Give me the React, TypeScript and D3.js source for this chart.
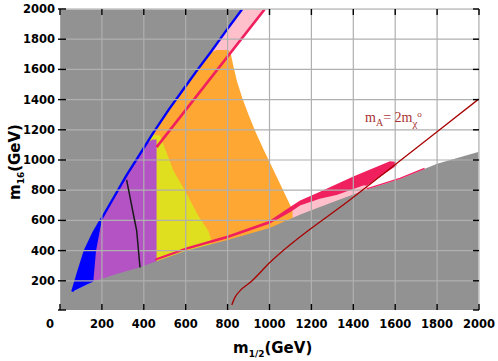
import React from "react";
import * as d3 from "d3";

type P = [number, number];

const xTicks = [0, 200, 400, 600, 800, 1000, 1200, 1400, 1600, 1800, 2000];
const yTicks = [200, 400, 600, 800, 1000, 1200, 1400, 1600, 1800, 2000];
const xTickLabels = ["0", "200", "400", "600", "800", "1000", "1200", "1400", "1600", "1800", "2000"];

// upper-left boundary of the allowed region (blue band)
const upperEdge: P[] = [[59,128],[85,250],[119,399],[160,520],[200,615],[260,760],[318,900],[380,1035],[445,1180],[520,1335],[590,1470],[655,1595],[720,1715],[790,1850],[870,2000]];
// top of the lower gray region
const lowerEdge: P[] = [[59,128],[159,195],[270,245],[382,290],[460,330],[605,400],[800,470],[1000,550],[1150,640],[1300,720],[1464,805],[1623,875],[1800,975],[1909,1019],[2000,1055]];
// blue filled region at low masses
const blueRegion: P[] = [[59,128],[159,195],[172,399],[199,598],[215,660],[200,615],[160,520],[119,399],[85,250],[59,128]];
// purple region
const purpleRegion: P[] = [[140,100],[140,480],[160,520],[200,615],[260,760],[318,900],[380,1035],[420,1115],[440,1135],[461,1135],[461,100]];
// yellow region
const yellowRegion: P[] = [[430,1150],[445,1165],[477,1163],[500,1080],[525,990],[541,930],[597,797],[660,631],[708,532],[720,480],[725,300],[440,200]];
// orange region
const orangeRegion: P[] = [[380,1035],[445,1180],[520,1335],[590,1470],[655,1595],[708,1706],[748,1728],[804,1728],[815,1706],[828,1620],[845,1520],[870,1410],[900,1300],[935,1180],[975,1060],[1020,930],[1065,800],[1114,655],[1120,500],[380,200]];
// light pink wedge at top
const pinkTop: P[] = [[600,1490],[655,1595],[720,1715],[790,1850],[870,2000],[978,2000],[699,1500]];
// light pink strip under crimson band
const pinkLow: P[] = [[1110,700],[1146,698],[1241,744],[1321,768],[1448,831],[1470,818],[1470,780],[1110,560]];
// crimson band along the lower edge and its blob
const crimsonBand: P[] = [[455,348],[605,422],[800,500],[1000,598],[1100,690],[1146,731],[1241,789],[1400,890],[1575,992],[1600,988],[1607,963],[1464,830],[1448,831],[1321,768],[1241,744],[1146,698],[1100,655],[1000,578],[800,482],[605,405],[455,332]];
// thin crimson line continuing along gray edge
const crimsonThin: P[] = [[1464,808],[1623,878],[1740,945]];
// crimson diagonal line
const crimsonDiag: P[] = [[461,1085],[978,2000]];
// black contour in purple region
const blackLine: P[] = [[318,868],[347,664],[366,532],[382,288]];
// m_A = 2 m_chi line
const mALine: P[] = [[820,40],[835,90],[860,135],[907,188],[1000,319],[1400,753],[1800,1187],[2000,1405]];

const W = 498, H = 361;
const x = d3.scaleLinear().domain([0, 2000]).range([60, 479]);
const y = d3.scaleLinear().domain([0, 2000]).range([311, 9]);

const poly = (pts: P[]) => "M" + pts.map(p => `${x(p[0])},${y(p[1])}`).join("L") + "Z";
const line = d3.line<P>().x(d => x(d[0])).y(d => y(d[1]));
const curve = d3.line<P>().x(d => x(d[0])).y(d => y(d[1])).curve(d3.curveMonotoneX);

const grayRegion: P[] = [[0, 2000], ...upperEdge.slice().reverse(), ...lowerEdge.slice(1), [2000, 0], [0, 0]];

const GRAY = "#929292";
const CRIMSON = "#f0205f";
const font = "'DejaVu Sans', sans-serif";

export default function App() {
  const left = 60, right = 479, top = 9, bottom = 310;
  return (
    <svg width={W} height={H} style={{ position: "absolute", left: 0, top: 0, background: "#fff" }}>
      <defs>
        <clipPath id="plot">
          <rect x={left} y={top} width={right - left} height={bottom - top} />
        </clipPath>
      </defs>
      <g clipPath="url(#plot)">
        <rect x={left} y={top} width={right - left} height={bottom - top} fill="#fff" />
        <path d={poly(pinkTop)} fill="#ffc0cb" />
        <path d={poly(orangeRegion)} fill="#ffa733" />
        <path d={poly(yellowRegion)} fill="#e0df1f" />
        <path d={poly(purpleRegion)} fill="#b454c4" />
        <path d={poly(pinkLow)} fill="#ffc0cb" />
        <path d={poly(crimsonBand)} fill={CRIMSON} />
        <path d={poly(grayRegion)} fill={GRAY} />
        <path d={poly(blueRegion)} fill="#0000ff" />
        <path d={line(upperEdge) || ""} fill="none" stroke="#0000ff" strokeWidth={2.4} />
        <path d={line(crimsonDiag) || ""} fill="none" stroke={CRIMSON} strokeWidth={2.6} />
        <path d={line(crimsonThin) || ""} fill="none" stroke={CRIMSON} strokeWidth={1.3} />
        {xTicks.map(t => (
          <line key={"gx" + t} x1={x(t)} x2={x(t)} y1={top} y2={bottom} stroke="#b0b0b0" strokeWidth={1.2} />
        ))}
        {yTicks.map(t => (
          <line key={"gy" + t} x1={left} x2={right} y1={y(t)} y2={y(t)} stroke="#b0b0b0" strokeWidth={1.2} />
        ))}
        <path d={line(blackLine) || ""} fill="none" stroke="#1a1a1a" strokeWidth={1.5} />
        <path d={curve(mALine) || ""} fill="none" stroke="#a80000" strokeWidth={1.3} />
      </g>
      <line x1={left} x2={right} y1={top} y2={top} stroke="#c4c4c4" strokeWidth={1.5} />
      <line x1={right} x2={right} y1={top} y2={bottom} stroke="#c4c4c4" strokeWidth={1.5} />
      {xTicks.map(t => (
        <g key={"tx" + t}>
          <line x1={x(t)} x2={x(t)} y1={top} y2={top + 6} stroke="#000" strokeWidth={1.4} />
          <line x1={x(t)} x2={x(t)} y1={bottom} y2={bottom - 6} stroke="#000" strokeWidth={1.4} />
        </g>
      ))}
      {[0, ...yTicks].map(t => (
        <g key={"ty" + t}>
          <line x1={left - 2} x2={left + 6} y1={Math.min(y(t), bottom)} y2={Math.min(y(t), bottom)} stroke="#000" strokeWidth={1.4} />
          <line x1={right} x2={right - 6} y1={Math.min(y(t), bottom)} y2={Math.min(y(t), bottom)} stroke="#000" strokeWidth={1.4} />
        </g>
      ))}
      {yTicks.map(t => (
        <text key={"ly" + t} x={55} y={y(t) + 4} textAnchor="end" fontFamily={font} fontWeight="bold" fontSize={11.5} fill="#000">{t}</text>
      ))}
      {xTicks.map((t, i) => (
        <text key={"lx" + t} x={t === 0 ? 50 : x(t)} y={328} textAnchor="middle" fontFamily={font} fontWeight="bold" fontSize={11.5} fill="#000">{xTickLabels[i]}</text>
      ))}
      <text x={233} y={353} fontFamily={font} fontWeight="bold" fontSize={15} fill="#000">
        <tspan>m</tspan><tspan dy={4} fontSize={9}>1/2</tspan><tspan dy={-4}>(GeV)</tspan>
      </text>
      <text transform="translate(20,200) rotate(-90)" fontFamily={font} fontWeight="bold" fontSize={15} fill="#000">
        <tspan>m</tspan><tspan dy={4} fontSize={9}>16</tspan><tspan dy={-4}>(GeV)</tspan>
      </text>
      <text x={365} y={122} fontFamily="'Liberation Serif', serif" fontSize={14} fill="#a83232">
        <tspan>m</tspan><tspan dy={4} fontSize={10}>A</tspan><tspan dy={-4}>= 2m</tspan><tspan dy={5} fontSize={11}>χ</tspan><tspan dy={-10} fontSize={9}>o</tspan>
      </text>
    </svg>
  );
}
